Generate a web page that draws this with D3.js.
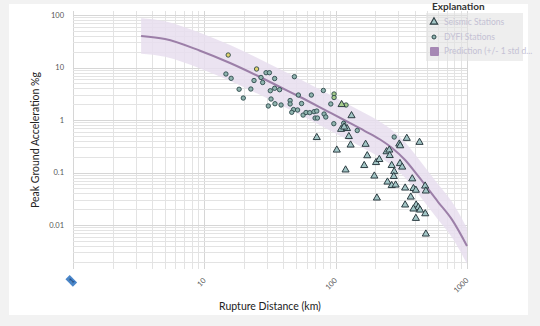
<!DOCTYPE html>
<html><head><meta charset="utf-8">
<script src="https://cdn.jsdelivr.net/npm/d3@7"></script>
<style>html,body{margin:0;padding:0;background:#f2f2f2;}svg{display:block;}</style>
</head><body>
<svg id="c" width="540" height="326"></svg>
<script>
// ---------------- data ----------------
const xTickValues = [1, 10, 100, 1000];
const xTickLabels = ["1", "10", "100", "1000"];
const yTickValues = [0.01, 0.1, 1, 10, 100];
const yTickLabels = ["0.01", "0.1", "1", "10", "100"];

// DYFI stations: distance (km), PGA (%g), colour class
const dyfiDist = [15.2,25.0,29.5,31.3,14.6,16.0,23.9,27.0,27.8,34.3,48.5,18.4,22.6,31.8,34.3,37.4,80.6,97.2,97.2,52.0,65.3,19.8,32.2,30.7,34.5,38.4,45.0,45.0,55.0,91.8,47.8,51.3,46.3,56.5,59.5,63.5,68.4,71.8,69.7,72.6,81.6,84.1,96.8,120,115,146,279];
const dyfiPga  = [17.3,9.36,7.96,7.96,7.52,6.22,5.65,6.46,5.18,6.17,6.68,3.85,3.89,3.61,4.02,3.78,3.65,3.13,2.68,2.99,2.99,2.62,2.51,1.85,2.04,1.93,2.35,2.02,2.06,2.02,1.58,1.55,1.40,1.24,1.39,1.38,1.44,1.48,1.09,1.09,1.30,1.14,0.851,1.93,0.865,0.631,0.474];
const dyfiClass = ["y","y","t","t","t","t","t","t","t","t","t","t","t","t","t","t","t","g","g","t","t","t","t","t","t","t","t","t","t","t","t","t","t","t","t","t","t","t","t","t","t","t","t","g","t","t","t"];

// Seismic stations
const seisDist = [132,111,71.8,110,122,116,126,130,169,102,174,165,119,203,215,197,244,256,248,206,348,305,310,435,258,267,309,321,279,277,267,286,383,338,391,408,480,486,373,338,410,426,391,439,481,408,486];
const seisPga  = [1.21,1.97,0.464,0.665,0.689,0.736,0.485,0.334,0.345,0.268,0.209,0.136,0.112,0.155,0.177,0.0858,0.249,0.268,0.0659,0.0327,0.448,0.349,0.324,0.376,0.211,0.136,0.148,0.127,0.104,0.0840,0.0565,0.0578,0.0758,0.0507,0.0496,0.0460,0.0553,0.0445,0.0341,0.0241,0.0241,0.0216,0.0202,0.0193,0.0164,0.0134,0.00674];
const seisClass = ["t","g","t","t","t","t","t","t","t","t","t","t","t","t","t","t","t","t","t","t","t","t","t","t","t","t","t","t","t","t","t","t","t","t","t","t","t","t","t","t","t","t","t","t","t","t","t"];

// Prediction (median) and +/- 1 std (log10 units)
const predDist = [3.30,5.02,9.27,15.7,25.6,37.7,53.6,86.0,122,167,218,269,338,424,603,771,1000];
const predPga  = [39.8,34.9,20.9,12.2,6.89,4.25,2.74,1.48,0.936,0.616,0.425,0.293,0.173,0.0858,0.0274,0.0125,0.00398];
const predStdLog10 = 0.34;

const legendLabels = ["Seismic Stations", "DYFI Stations", "Prediction (+/- 1 std d..."];

// ---------------- layout ----------------
const svg = d3.select("#c");
const plotL = 73, plotR = 467, plotT = 11, plotB = 269;
const x = d3.scaleLog().domain([1, 1000]).range([plotL, plotR]);
const y = d3.scaleLog().domain([0.01, 100]).range([225, 15]);
const font = "Lato, 'Noto Sans', sans-serif";

svg.append("rect").attr("x", 9).attr("y", 4).attr("width", 519).attr("height", 311).attr("fill", "#ffffff");

// grid
const g = svg.append("g");
const xGrid = [];
for (let e = 0; e < 3; e++) for (let m = 1; m <= 9; m++) xGrid.push(m * Math.pow(10, e));
xGrid.push(1000);
const yGrid = [];
for (let e = -3; e < 3; e++) for (let m = 1; m <= 9; m++) yGrid.push(m * Math.pow(10, e));
g.selectAll("line.vx").data(xGrid).enter().append("line")
  .attr("x1", d => Math.round(x(d)) + 0.5).attr("x2", d => Math.round(x(d)) + 0.5)
  .attr("y1", plotT).attr("y2", plotB)
  .attr("stroke", d => xTickValues.includes(d) ? "#d6d6d6" : "#e3e3e3").attr("stroke-width", 1);
g.selectAll("line.hy").data(yGrid.filter(v => y(v) >= plotT && y(v) <= plotB)).enter().append("line")
  .attr("y1", d => Math.round(y(d)) + 0.5).attr("y2", d => Math.round(y(d)) + 0.5)
  .attr("x1", plotL).attr("x2", plotR)
  .attr("stroke", d => yTickValues.includes(d) ? "#d6d6d6" : "#e3e3e3").attr("stroke-width", 1);

// band + line
const pred = predDist.map((d, i) => ({d, v: predPga[i]}));
const f = Math.pow(10, predStdLog10);
svg.append("path").datum(pred)
  .attr("d", d3.area().x(p => x(p.d)).y0(p => Math.min(plotB, y(p.v / f))).y1(p => y(p.v * f)).curve(d3.curveMonotoneX))
  .attr("fill", "#e8deef").attr("opacity", 0.85);
svg.append("path").datum(pred)
  .attr("d", d3.line().x(p => x(p.d)).y(p => y(p.v)).curve(d3.curveMonotoneX))
  .attr("fill", "none").attr("stroke", "#9c7fa8").attr("stroke-width", 2);

// markers
const fillMap = {t: "#a2c6c6", y: "#e2d36c", g: "#a6cc8c"};
const circFill = {t: "#8fb3ae", y: "#e2d36c", g: "#a6cc8c"};
svg.append("g").selectAll("circle").data(dyfiDist.map((d, i) => ({d, v: dyfiPga[i], c: dyfiClass[i]})))
  .enter().append("circle")
  .attr("cx", p => x(p.d)).attr("cy", p => y(p.v)).attr("r", 2.2)
  .attr("fill", p => circFill[p.c]).attr("stroke", "#2e4a4c").attr("stroke-width", 0.9);
const tri = d3.symbol().type(d3.symbolTriangle).size(22);
svg.append("g").selectAll("path").data(seisDist.map((d, i) => ({d, v: seisPga[i], c: seisClass[i]})))
  .enter().append("path")
  .attr("d", tri).attr("transform", p => `translate(${x(p.d)},${y(p.v)})`)
  .attr("fill", p => fillMap[p.c]).attr("stroke", "#2b3b40").attr("stroke-width", 1);

// y tick labels
svg.append("g").selectAll("text").data(yTickValues).enter().append("text")
  .attr("x", 64).attr("y", d => y(d) + 2.5).attr("text-anchor", "end")
  .attr("font-family", font).attr("font-size", 7.5).attr("fill", "#555")
  .text((d, i) => yTickLabels[i]);

// x tick labels
const xl = svg.append("g").selectAll("g").data(xTickValues).enter().append("g")
  .attr("transform", d => `translate(${x(d) + 2},${281}) rotate(-45)`);
xl.filter(d => d === 1).append("rect").attr("x", -5.5).attr("y", -8).attr("width", 6).attr("height", 10.5).attr("fill", "#4a86c9");
xl.append("text").attr("text-anchor", "end")
  .attr("font-family", font).attr("font-size", 7.5).attr("fill", d => d === 1 ? "#173d70" : "#555")
  .text((d, i) => xTickLabels[i]);

// axis titles
svg.append("text").attr("transform", "translate(39,140) rotate(-90)").attr("text-anchor", "middle")
  .attr("font-family", font).attr("font-size", 10.5).attr("fill", "#222").text("Peak Ground Acceleration %g");
svg.append("text").attr("x", (plotL + plotR) / 2).attr("y", 310).attr("text-anchor", "middle")
  .attr("font-family", font).attr("font-size", 10.5).attr("fill", "#222").text("Rupture Distance (km)");

// legend
svg.append("text").attr("x", 432).attr("y", 9.5).attr("font-family", font).attr("font-weight", "bold")
  .attr("font-size", 10).attr("fill", "#333").text("Explanation");
svg.append("rect").attr("x", 426).attr("y", 13).attr("width", 97).attr("height", 48).attr("fill", "#e2e2e2").attr("opacity", 0.6);
svg.append("path").attr("d", d3.symbol().type(d3.symbolTriangle).size(24)).attr("transform", "translate(434,22)")
  .attr("fill", "#a2c6c6").attr("stroke", "#2b3b40").attr("stroke-width", 1.1);
svg.append("circle").attr("cx", 434).attr("cy", 37).attr("r", 2).attr("fill", "#8fb3ae").attr("stroke", "#2e4a4c").attr("stroke-width", 1);
svg.append("rect").attr("x", 430).attr("y", 47).attr("width", 9).attr("height", 9).attr("rx", 1).attr("fill", "#a688b4");
svg.append("g").selectAll("text").data(legendLabels).enter().append("text")
  .attr("x", 444).attr("y", (d, i) => 25 + i * 14.5)
  .attr("font-family", font).attr("font-size", 8.5).attr("fill", "#c4c1d4").text(d => d);
</script>
</body></html>
